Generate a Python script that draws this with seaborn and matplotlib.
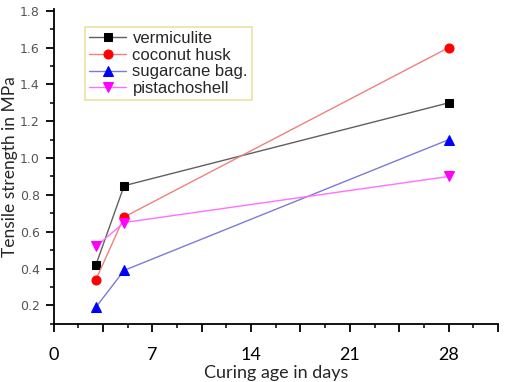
import numpy as np
import pandas as pd
import matplotlib
matplotlib.use("Agg")
import matplotlib.pyplot as plt
from matplotlib.ticker import MultipleLocator, FixedLocator, FixedFormatter
import seaborn as sns

# data
dias = [3, 5, 28]
vermiculita = [0.42, 0.85, 1.30]
coco = [0.34, 0.68, 1.60]
bagazo = [0.19, 0.39, 1.10]
pistacho = [0.52, 0.65, 0.90]

nombres = ['vermiculite', 'coconut husk', 'sugarcane bag.', 'pistachoshell']
series = [vermiculita, coco, bagazo, pistacho]

# line colour, marker colour, marker
estilos = [('#606060', 'black', 's', 6),
           ('#f08080', 'red', 'o', 6.5),
           ('#7b7bd6', 'blue', '^', 7.5),
           ('#ff70ff', 'magenta', 'v', 7.5)]

df = pd.DataFrame({
    'dias': dias * len(series),
    'valor': sum(series, []),
    'serie': np.repeat(nombres, len(dias)),
})

sns.set_style('ticks')
fig = plt.figure(figsize=(5.05, 3.82), dpi=100)
ax = fig.add_axes([53.6 / 505, 1 - 324.3 / 382, (498 - 53.6) / 505, (324.3 - 9) / 382])

for nombre, (c_linea, c_marca, marca, tam) in zip(nombres, estilos):
    sub = df[df['serie'] == nombre]
    sns.lineplot(data=sub, x='dias', y='valor', ax=ax, color=c_linea, linewidth=1.0,
                 marker=marca, markersize=tam, markerfacecolor=c_marca,
                 markeredgecolor=c_marca, label=nombre)

ax.set_xlim(0, 31.5)
ax.set_ylim(0.097, 1.81)

# x axis: major every 3.5 days, labels only every week
mayores = np.arange(0, 31.6, 3.5)
ax.xaxis.set_major_locator(FixedLocator(mayores))
ax.xaxis.set_major_formatter(FixedFormatter([str(int(v)) if v % 7 == 0 else '' for v in mayores]))
ax.xaxis.set_minor_locator(MultipleLocator(1.75))
ax.yaxis.set_major_locator(FixedLocator([0.2, 0.4, 0.6, 0.8, 1.0, 1.2, 1.4, 1.6, 1.8]))
ax.yaxis.set_major_formatter(FixedFormatter(['0.2', '0.4', '0.6', '0.8', '1.0', '1.2', '1.4', '1.6', '1.8']))
ax.yaxis.set_minor_locator(MultipleLocator(0.1))

ax.tick_params(axis='both', which='major', direction='out', length=6, width=1.3, color='black')
ax.tick_params(axis='both', which='minor', direction='out', length=3, width=1.1, color='black')
ax.tick_params(axis='y', labelsize=9, labelcolor='#555555', pad=4)
ax.tick_params(axis='x', labelsize=13, labelcolor='black', pad=10)
for lab in ax.get_xticklabels():
    lab.set_family('Lato')

for lado in ['left', 'bottom']:
    ax.spines[lado].set_linewidth(1.3)
    ax.spines[lado].set_color('black')
sns.despine(ax=ax)

ax.set_xlabel('Curing age in days', fontsize=13, family='Lato', labelpad=2)
ax.set_ylabel('Tensile strength in MPa', fontsize=12.5, family='Lato')
ax.yaxis.set_label_coords(-0.081, 0.5)

leg = ax.legend(loc='upper left', bbox_to_anchor=(85 / 505, 1 - 27 / 382),
                bbox_transform=fig.transFigure, borderaxespad=0,
                prop={'family': 'Liberation Sans', 'size': 12},
                frameon=True, fancybox=False, handlelength=2.2, handletextpad=0.4,
                labelspacing=0.1, borderpad=0.25)
leg.get_frame().set_edgecolor('#e6d888')
leg.get_frame().set_linewidth(1.2)

fig.savefig('out.png', dpi=100)
